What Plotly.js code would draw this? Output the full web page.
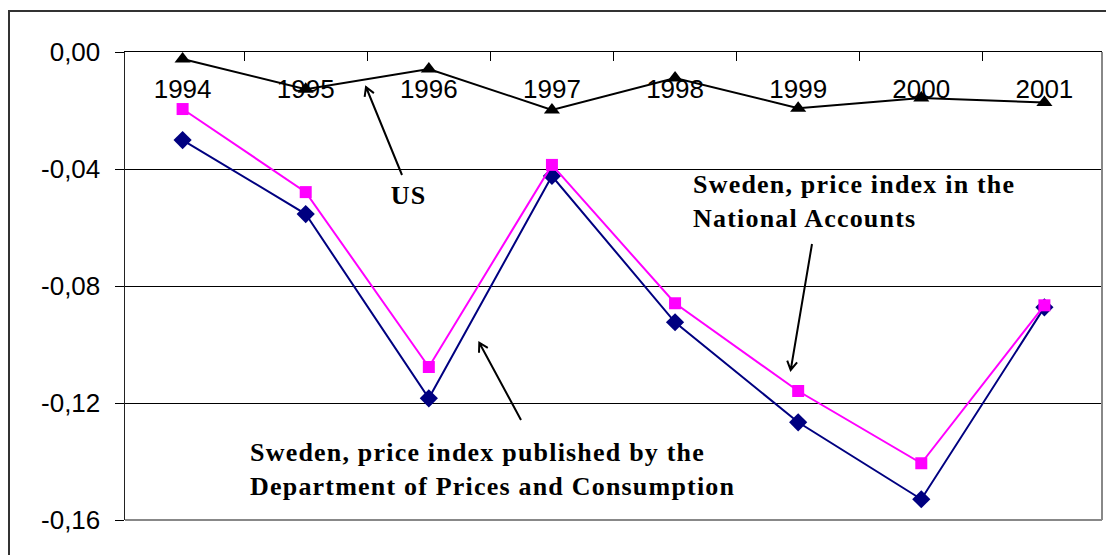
<!DOCTYPE html>
<html>
<head>
<meta charset="utf-8">
<script src="https://cdn.plot.ly/plotly-3.0.1.min.js"></script>
<style>
html,body{margin:0;padding:0;background:#fff;overflow:hidden;}
#wrap{position:relative;width:1106px;height:555px;}
#chart{width:1106px;height:555px;}
#frame{position:absolute;left:8px;top:10px;width:1200px;height:700px;border-left:2px solid #333;border-top:2px solid #333;pointer-events:none;}
#chart .annotation-text{letter-spacing:1.2px;}
</style>
</head>
<body>
<div id="wrap">
<div id="chart"></div>
<div id="frame"></div>
</div>
<script>
// ---- data ----
const years = ['1994', '1995', '1996', '1997', '1998', '1999', '2000', '2001'];
const usValues = [-0.0024, -0.0127, -0.0058, -0.0198, -0.0089, -0.0192, -0.0157, -0.0173];
const swedenNationalAccounts = [-0.0195, -0.0479, -0.1077, -0.0386, -0.0859, -0.1159, -0.1406, -0.0866];
const swedenPricesConsumption = [-0.0301, -0.0554, -0.1184, -0.0424, -0.0924, -0.1266, -0.1529, -0.0873];
const yTickVals = [0, -0.04, -0.08, -0.12, -0.16];
const yTickText = ['0,00', '-0,04', '-0,08', '-0,12', '-0,16'];
const gridVals = [-0.04, -0.08, -0.12];

// ---- layout geometry ----
const W = 1106, H = 555;
const M = {l: 125, r: 4, t: 52, b: 35};
const PW = W - M.l - M.r, PH = H - M.t - M.b;
const px = X => (X - M.l) / PW;
const py = Y => (H - M.b - Y) / PH;

function arrowPath(tx, ty, hx, hy) {
  const dx = hx - tx, dy = hy - ty, L = Math.hypot(dx, dy);
  const ux = dx / L, uy = dy / L, a = Math.PI / 6, len = 10;
  const r1x = ux * Math.cos(a) - uy * Math.sin(a), r1y = ux * Math.sin(a) + uy * Math.cos(a);
  const r2x = ux * Math.cos(a) + uy * Math.sin(a), r2y = -ux * Math.sin(a) + uy * Math.cos(a);
  const w1 = [hx - len * r1x, hy - len * r1y], w2 = [hx - len * r2x, hy - len * r2y];
  const p = (X, Y) => px(X).toFixed(5) + ',' + py(Y).toFixed(5);
  return 'M' + p(tx, ty) + ' L' + p(hx, hy) + ' M' + p(w1[0], w1[1]) + ' L' + p(hx, hy) + ' L' + p(w2[0], w2[1]);
}

const labelFont = {family: 'Liberation Serif, Times New Roman, serif', size: 26, color: '#000', weight: 'bold'};
const tickFont = {family: 'Liberation Sans, Arial, sans-serif', size: 26, color: '#000'};

const traces = [
  {
    x: years, y: swedenPricesConsumption, type: 'scatter', mode: 'lines+markers',
    name: 'Sweden, price index published by the Department of Prices and Consumption',
    line: {color: '#000080', width: 2},
    marker: {symbol: 'diamond', size: 14, color: '#000080'}
  },
  {
    x: years, y: swedenNationalAccounts, type: 'scatter', mode: 'lines+markers',
    name: 'Sweden, price index in the National Accounts',
    line: {color: '#FF00FF', width: 2},
    marker: {symbol: 'square', size: 12, color: '#FF00FF'}
  },
  {
    x: years, y: usValues, type: 'scatter', mode: 'lines+markers',
    name: 'US',
    line: {color: '#000000', width: 2},
    marker: {symbol: 'triangle-up', size: 14, color: '#000000'}
  }
];

const layout = {
  width: W, height: H,
  margin: M,
  paper_bgcolor: '#fff', plot_bgcolor: '#fff',
  showlegend: false,
  xaxis: {
    type: 'category',
    side: 'top',
    layer: 'below traces',
    showline: true, linecolor: '#000', linewidth: 1.3,
    ticks: 'inside', ticklen: 9, tickcolor: '#000', tickwidth: 1.3,
    tickson: 'boundaries',
    ticklabelposition: 'outside',
    ticklabelstandoff: -58,
    showgrid: false, zeroline: false,
    tickfont: tickFont,
    fixedrange: true
  },
  yaxis: {
    range: [-0.16, 0],
    tickmode: 'array', tickvals: yTickVals, ticktext: yTickText,
    showline: true, linecolor: '#222', linewidth: 1.5,
    ticks: 'outside', ticklen: 9, tickcolor: '#000',
    ticklabelstandoff: 9,
    showgrid: false, zeroline: false,
    minor: {tickmode: 'array', tickvals: gridVals, showgrid: true, gridcolor: '#000', gridwidth: 1, ticks: ''},
    tickfont: tickFont,
    fixedrange: true
  },
  shapes: [
    // grey plot border bottom/right
    {type: 'line', xref: 'paper', yref: 'paper', x0: 0, x1: 1, y0: 0, y1: 0, line: {color: '#888', width: 2}},
    {type: 'line', xref: 'paper', yref: 'paper', x0: 1, x1: 1, y0: 0, y1: 1, line: {color: '#888', width: 2}},
    // arrows
    {type: 'path', xref: 'paper', yref: 'paper', path: arrowPath(402, 175, 366, 87), line: {color: '#000', width: 2}},
    {type: 'path', xref: 'paper', yref: 'paper', path: arrowPath(812, 244, 790.7, 370), line: {color: '#000', width: 2}},
    {type: 'path', xref: 'paper', yref: 'paper', path: arrowPath(521, 420, 479.3, 342.7), line: {color: '#000', width: 2}}
  ],
  annotations: [
    {xref: 'paper', yref: 'paper', x: px(408), y: py(195), xanchor: 'center', yanchor: 'middle',
     text: 'US', showarrow: false, font: labelFont},
    {xref: 'paper', yref: 'paper', x: px(691), y: py(201), xanchor: 'left', yanchor: 'middle', align: 'left',
     text: 'Sweden, price index in the<br>National Accounts', showarrow: false, font: labelFont},
    {xref: 'paper', yref: 'paper', x: px(248), y: py(469), xanchor: 'left', yanchor: 'middle', align: 'left',
     text: 'Sweden, price index published by the<br>Department of Prices and Consumption', showarrow: false, font: labelFont}
  ]
};

Plotly.newPlot('chart', traces, layout, {displayModeBar: false, staticPlot: true});
</script>
</body>
</html>
